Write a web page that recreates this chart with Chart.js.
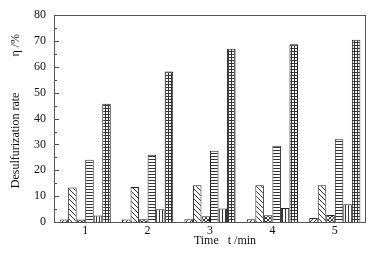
<!DOCTYPE html>
<html>
<head>
<meta charset="utf-8">
<script src="https://cdn.jsdelivr.net/npm/chart.js@4.4.1/dist/chart.umd.min.js"></script>
<style>
  html, body { margin: 0; padding: 0; background: #fff; }
  #wrap { width: 375px; height: 263px; }
</style>
</head>
<body>
<div id="wrap"><canvas id="chart" width="375" height="263"></canvas></div>
<script>
// time points (min)
const times = ['1', '2', '3', '4', '5'];
// desulfurization rate, one array per bar series
const s1 = [1.0, 1.0, 1.1, 1.1, 1.5];
const s2 = [13.3, 13.5, 14.2, 14.2, 14.2];
const s3 = [1.0, 1.1, 2.2, 2.6, 2.7];
const s4 = [24.1, 26.0, 27.6, 29.5, 32.0];
const s5 = [2.5, 4.9, 5.2, 5.4, 6.9];
const s6 = [45.7, 58.2, 67.0, 68.8, 70.5];
const yTicks = [0, 10, 20, 30, 40, 50, 60, 70, 80];

// little hatch tiles
function makePattern(size, draw) {
  const c = document.createElement('canvas');
  c.width = size; c.height = size;
  const g = c.getContext('2d');
  g.fillStyle = '#fff';
  g.fillRect(0, 0, size, size);
  g.fillStyle = '#333';
  draw(g, size);
  return g.createPattern(c, 'repeat');
}
const ctx = document.getElementById('chart').getContext('2d');
const pSlash = makePattern(4, (g, n) => { for (let i = 0; i < n; i++) g.fillRect(i, n - 1 - i, 1, 1); });
const pBack = makePattern(5, (g, n) => { for (let i = 0; i < n; i++) g.fillRect(i, i, 1, 1); });
const pCross = makePattern(4, (g, n) => { for (let i = 0; i < n; i++) { g.fillRect(i, i, 1, 1); g.fillRect(i, n - 1 - i, 1, 1); } });
const pHoriz = makePattern(3, (g, n) => { g.fillRect(0, 0, n, 1); });
const pVert = makePattern(3, (g, n) => { g.fillRect(0, 0, 1, n); });
const pGrid = makePattern(3, (g, n) => { g.fillRect(0, 0, n, 1); g.fillRect(0, 0, 1, n); });

const serif = '"Liberation Serif", "Times New Roman", serif';

function bar(data, pat) {
  return {
    data: data,
    backgroundColor: pat,
    borderColor: '#222',
    borderWidth: 1,
    categoryPercentage: 0.82,
    barPercentage: 1.0
  };
}

// frame + inward ticks on the left axis
const framePlugin = {
  id: 'frame',
  afterDraw(chart) {
    const a = chart.chartArea;
    const y = chart.scales.y;
    const c = chart.ctx;
    c.save();
    c.strokeStyle = '#555';
    c.lineWidth = 1;
    c.strokeRect(Math.round(a.left) + 0.5, Math.round(a.top) + 0.5,
      Math.round(a.right - a.left) - 1, Math.round(a.bottom - a.top));
    c.beginPath();
    for (let v = 0; v <= 80; v += 5) {
      const py = Math.round(y.getPixelForValue(v)) + 0.5;
      const len = v % 10 === 0 ? 5 : 3;
      c.moveTo(Math.round(a.left), py);
      c.lineTo(Math.round(a.left) + len, py);
    }
    c.stroke();
    c.restore();
  }
};

new Chart(ctx, {
  type: 'bar',
  data: {
    labels: times,
    datasets: [
      bar(s1, pSlash),
      bar(s2, pBack),
      bar(s3, pCross),
      bar(s4, pHoriz),
      bar(s5, pVert),
      bar(s6, pGrid)
    ]
  },
  options: {
    responsive: false,
    animation: false,
    layout: { padding: { top: 13, right: 9, left: 0, bottom: 0 } },
    plugins: { legend: { display: false }, tooltip: { enabled: false } },
    scales: {
      x: {
        grid: { display: false, drawTicks: false },
        border: { display: false },
        ticks: { color: '#111', font: { family: serif, size: 12 }, padding: 2, maxRotation: 0 },
        title: {
          display: true,
          text: '\u2003\u2003\u2002Time\u2002 t /min',
          color: '#111',
          font: { family: serif, size: 12 },
          padding: { bottom: 15 }
        },
        afterFit(s) { s.height = 41; }
      },
      y: {
        min: 0,
        max: 80,
        afterBuildTicks(s) { s.ticks = yTicks.map(v => ({ value: v })); },
        grid: { display: false, drawTicks: false },
        border: { display: false },
        ticks: { color: '#111', font: { family: serif, size: 12 }, padding: 8 },
        title: {
          display: true,
          text: '\u2003 Desulfurization rate\u2003\u2003\u2003\u03b7 /%',
          color: '#111',
          font: { family: serif, size: 12 },
          padding: { top: 9 }
        },
        afterFit(s) { s.width = 54; }
      }
    }
  },
  plugins: [framePlugin]
});
</script>
</body>
</html>
